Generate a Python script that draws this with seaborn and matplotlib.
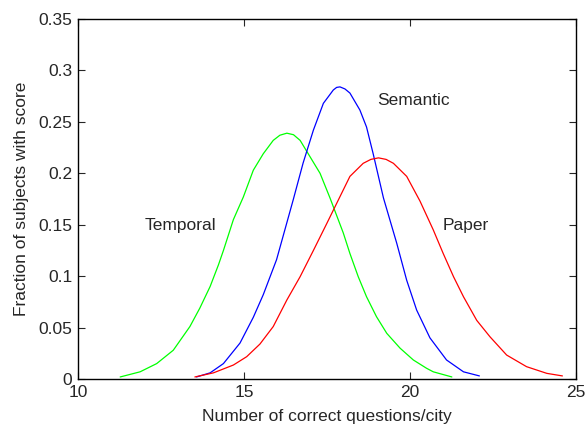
import numpy as np
import pandas as pd
import matplotlib
matplotlib.use("Agg")
import matplotlib.pyplot as plt
import seaborn as sns

# values
temporal_x = [11.27, 11.87, 12.37, 12.87, 13.37, 13.67, 13.98, 14.23, 14.38, 14.68,
              14.98, 15.28, 15.58, 15.88, 16.08, 16.29, 16.49, 16.69, 16.99, 17.29,
              17.59, 17.99, 18.19, 18.44, 18.69, 18.99, 19.30, 19.70, 20.10, 20.50,
              20.70, 21.26]
temporal_y = [0.002, 0.007, 0.015, 0.028, 0.051, 0.069, 0.090, 0.111, 0.125, 0.155,
              0.177, 0.203, 0.219, 0.232, 0.237, 0.239, 0.2375, 0.232, 0.216, 0.200,
              0.176, 0.142, 0.122, 0.0995, 0.080, 0.0606, 0.0444, 0.030, 0.0185, 0.0104,
              0.007, 0.002]

semantic_x = [13.57, 13.98, 14.38, 14.88, 15.28, 15.58, 15.98, 16.48, 16.78, 17.09,
              17.39, 17.69, 17.79, 17.89, 18.04, 18.19, 18.49, 18.69, 18.89, 19.20,
              19.60, 19.90, 20.20, 20.60, 21.10, 21.61, 22.09]
semantic_y = [0.002, 0.006, 0.015, 0.035, 0.060, 0.082, 0.116, 0.174, 0.210, 0.242,
              0.268, 0.281, 0.2835, 0.284, 0.282, 0.278, 0.2615, 0.245, 0.219, 0.176,
              0.132, 0.096, 0.067, 0.040, 0.0185, 0.007, 0.003]

paper_x = [13.52, 14.08, 14.68, 15.08, 15.48, 15.88, 16.29, 16.69, 17.09, 17.49,
           17.84, 18.19, 18.59, 18.82, 19.05, 19.28, 19.50, 19.90, 20.30, 20.70,
           21.00, 21.31, 21.61, 22.01, 22.41, 22.91, 23.51, 24.12, 24.59]
paper_y = [0.002, 0.006, 0.0136, 0.0217, 0.034, 0.051, 0.0768, 0.0995, 0.125, 0.151,
           0.174, 0.197, 0.2097, 0.2135, 0.215, 0.2135, 0.2097, 0.197, 0.173, 0.145,
           0.122, 0.0995, 0.080, 0.057, 0.041, 0.0233, 0.012, 0.0055, 0.003]

series_names = ["Temporal", "Semantic", "Paper"]
series_colors = ["#00ff00", "#0000ff", "#ff0000"]
x_ticks = [10, 15, 20, 25]
y_ticks = [0, 0.05, 0.1, 0.15, 0.2, 0.25, 0.3, 0.35]
y_tick_labels = ["0", "0.05", "0.1", "0.15", "0.2", "0.25", "0.3", "0.35"]

df = pd.concat([
    pd.DataFrame({"score": temporal_x, "frac": temporal_y, "group": "Temporal"}),
    pd.DataFrame({"score": semantic_x, "frac": semantic_y, "group": "Semantic"}),
    pd.DataFrame({"score": paper_x, "frac": paper_y, "group": "Paper"}),
], ignore_index=True)

sns.set_style("ticks")
plt.rcParams["font.family"] = ["Liberation Sans", "DejaVu Sans"]
plt.rcParams["xtick.direction"] = "in"
plt.rcParams["ytick.direction"] = "in"

fig = plt.figure(figsize=(5.87, 4.26), dpi=100)
ax = fig.add_axes([0.1329, 0.1103, 0.8484, 0.8451])

sns.lineplot(data=df, x="score", y="frac", hue="group", hue_order=series_names,
             palette=series_colors, estimator=None, sort=False, linewidth=0.9,
             legend=False, ax=ax)

ax.set_xlim(10, 25)
ax.set_ylim(0, 0.35)
ax.set_xticks(x_ticks)
ax.set_yticks(y_ticks)
ax.set_yticklabels(y_tick_labels)
ax.tick_params(labelsize=12.5, length=5, width=0.8, top=True, right=True, pad=4)
for s in ax.spines.values():
    s.set_visible(True)
    s.set_linewidth(1.0)
    s.set_color("black")

# the reference crops this label at the bottom edge; keep it just inside
ax.set_xlabel("Number of correct questions/city", fontsize=12.5, labelpad=7)
ax.set_ylabel("Fraction of subjects with score", fontsize=12.5, labelpad=7)

ax.text(12.02, 0.1497, "Temporal", fontsize=12.5, va="center", ha="left")
ax.text(19.0, 0.271, "Semantic", fontsize=12.5, va="center", ha="left")
ax.text(20.98, 0.1497, "Paper", fontsize=12.5, va="center", ha="left")

fig.savefig("out.png", dpi=100)
